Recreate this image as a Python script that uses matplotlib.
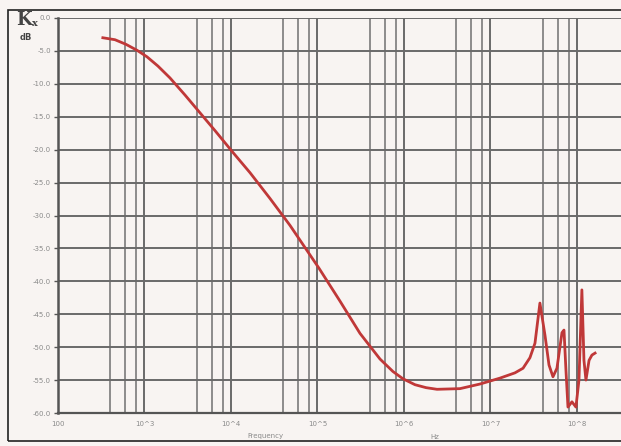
import numpy as np
import matplotlib.pyplot as plt
from matplotlib.patches import Rectangle
from matplotlib.ticker import FixedLocator, NullFormatter

# frequency response (Hz, dB)
freq = [330, 456, 611, 819, 1070, 1430, 1970, 2940, 4380, 6530,
        1.05e4, 1.66e4, 2.82e4, 4.81e4, 1.04e5, 1.82e5, 3.10e5, 5.28e5,
        7.46e5, 9.73e5, 1.34e6, 1.80e6, 2.41e6, 4.44e6, 7.56e6, 1.29e7,
        1.92e7, 2.38e7, 2.86e7, 3.27e7, 3.73e7, 4.27e7, 4.75e7, 5.28e7,
        5.87e7, 6.71e7, 7.08e7, 7.46e7, 7.87e7, 8.75e7, 9.73e7, 1.055e8,
        1.14e8, 1.205e8, 1.27e8, 1.38e8, 1.49e8, 1.62e8]
kx_db = [-3.0, -3.3, -4.0, -4.9, -5.9, -7.3, -9.1, -11.7, -14.4, -17.1,
         -20.4, -23.5, -27.4, -31.5, -38.0, -43.0, -47.9, -51.8,
         -53.7, -54.8, -55.7, -56.15, -56.4, -56.3, -55.6, -54.7,
         -53.9, -53.2, -51.6, -49.4, -43.3, -48.2, -52.7, -54.5,
         -53.2, -47.8, -47.4, -53.5, -59.1, -58.3, -59.1, -55.0,
         -41.3, -52.0, -55.0, -52.0, -51.2, -50.9]

y_ticks = [0, -5, -10, -15, -20, -25, -30, -35, -40, -45, -50, -55, -60]
x_ticks = [1e2, 1e3, 1e4, 1e5, 1e6, 1e7, 1e8]
x_labels = ['100', '10^3', '10^4', '10^5', '10^6', '10^7', '10^8']

W, H = 621, 446
bg = '#f8f4f2'
fig = plt.figure(figsize=(W / 100, H / 100), dpi=100, facecolor=bg)

# outer frame of the scanned page
fig.add_artist(Rectangle((8 / W, 1 - 441 / H), 700 / W, 431 / H,
                         transform=fig.transFigure, fill=False,
                         edgecolor='#222222', linewidth=1.2))

ax = fig.add_axes([58 / W, 1 - 413 / H, (W - 58) / W, 395 / H])
ax.set_facecolor(bg)
ax.set_xscale('log')
ax.set_xlim(100, 3.23e8)
ax.set_ylim(-60, 0)

# grid: decades plus 4, 6, 8 within each decade
minor = [m * 10 ** d for d in range(2, 9) for m in (4, 6, 8)]
ax.xaxis.set_major_locator(FixedLocator(x_ticks))
ax.xaxis.set_minor_locator(FixedLocator(minor))
ax.xaxis.set_minor_formatter(NullFormatter())
ax.set_xticklabels(x_labels)
ax.set_yticks(y_ticks)
ax.set_yticklabels(['%.1f' % v for v in y_ticks])

ax.grid(True, which='major', axis='both', color='#6a6a6a', linewidth=1.4)
ax.grid(True, which='minor', axis='x', color='#7a7a7a', linewidth=1.2)
ax.set_axisbelow(True)

for side in ['top', 'right']:
    ax.spines[side].set_visible(False)
ax.spines['left'].set_color('#555555')
ax.spines['left'].set_linewidth(1.8)
ax.spines['bottom'].set_color('#555555')
ax.spines['bottom'].set_linewidth(1.6)

ax.tick_params(axis='y', length=3, width=1, color='#555555', pad=2,
               labelsize=5, labelcolor='#8a8a8a')
ax.tick_params(axis='x', which='major', length=0, pad=6,
               labelsize=5, labelcolor='#8a8a8a')
ax.tick_params(axis='x', which='minor', length=0)

ax.plot(freq, kx_db, color='#c03838', linewidth=2.0, solid_joinstyle='round')

fig.text(16 / W, 1 - 20 / H, 'K', fontsize=13, family='DejaVu Serif',
         fontweight='bold', color='#444444', va='center', ha='left')
fig.text(32 / W, 1 - 24 / H, 'x', fontsize=7, family='DejaVu Serif',
         fontweight='bold', color='#444444', va='center', ha='left')
fig.text(20 / W, 1 - 38 / H, 'dB', fontsize=6, fontweight='bold',
         color='#444444', va='center', ha='left')
fig.text(265 / W, 1 - 436 / H, 'Frequency', fontsize=5, color='#8a8a8a',
         ha='center', va='center')
fig.text(435 / W, 1 - 437 / H, 'Hz', fontsize=5, color='#8a8a8a',
         ha='center', va='center')

fig.savefig('out.png', dpi=100, facecolor=bg)
